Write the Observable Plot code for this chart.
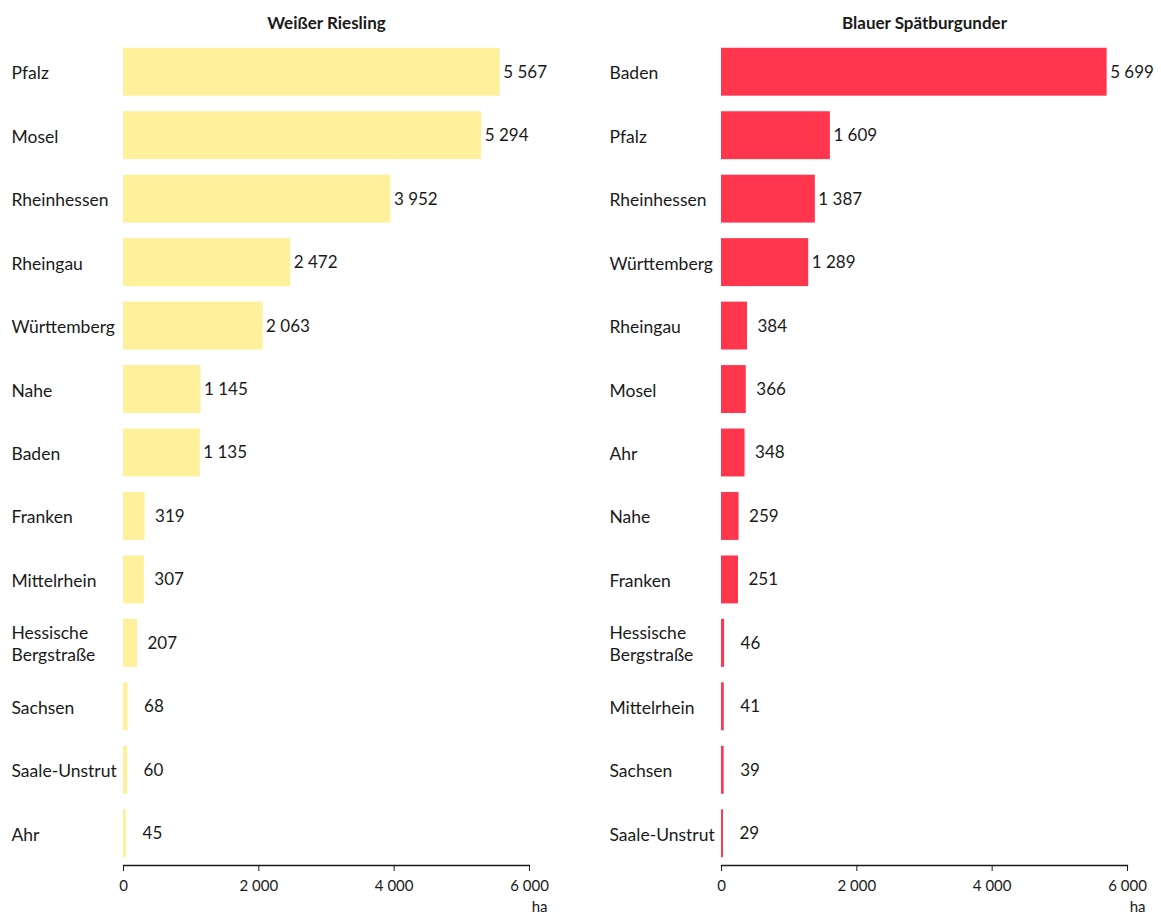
<!DOCTYPE html>
<html>
<head>
<meta charset="utf-8">
<script src="https://cdn.jsdelivr.net/npm/d3@7"></script>
<script src="https://cdn.jsdelivr.net/npm/@observablehq/plot@0.6"></script>
<style>
  html, body { margin: 0; padding: 0; background: #fff; }
  body { font-family: Lato, "Noto Sans", sans-serif; color: #1a1a1a; }
  #wrap { display: flex; flex-direction: row; width: 1161px; overflow: hidden; }
  svg { font-family: Lato, "Noto Sans", sans-serif; }
</style>
</head>
<body>
<div id="wrap"></div>
<script>
// ---- data ----
const rieslingTitle = "Weißer Riesling";
const rieslingRegions = ["Pfalz", "Mosel", "Rheinhessen", "Rheingau", "Württemberg", "Nahe", "Baden", "Franken", "Mittelrhein", "Hessische Bergstraße", "Sachsen", "Saale-Unstrut", "Ahr"];
const rieslingValues = [5567, 5294, 3952, 2472, 2063, 1145, 1135, 319, 307, 207, 68, 60, 45];

const burgunderTitle = "Blauer Spätburgunder";
const burgunderRegions = ["Baden", "Pfalz", "Rheinhessen", "Württemberg", "Rheingau", "Mosel", "Ahr", "Nahe", "Franken", "Hessische Bergstraße", "Mittelrhein", "Sachsen", "Saale-Unstrut"];
const burgunderValues = [5699, 1609, 1387, 1289, 384, 366, 348, 259, 251, 46, 41, 39, 29];

const xTicks = [0, 2000, 4000, 6000];
const unitLabel = "ha";

const locale = d3.formatLocale({decimal: ",", thousands: " ", grouping: [3], currency: ["", " €"]});
const fmt = locale.format(",d");
const wrapLabel = s => s.replace("Hessische ", "Hessische\n");

function panel(title, regions, values, color, width) {
  const data = regions.map((r, i) => ({region: r, value: values[i]}));
  const textColor = "#1a1a1a";
  return Plot.plot({
    width,
    height: 920,
    marginTop: 40,
    marginBottom: 55,
    marginLeft: 123,
    marginRight: width - 529,
    style: {fontFamily: "Lato, 'Noto Sans', sans-serif", color: textColor, background: "#fff"},
    x: {domain: [0, 6000], axis: null},
    y: {domain: regions, paddingInner: 0.245, paddingOuter: 0.1225, round: false, axis: null},
    marks: [
      Plot.barX(data, {y: "region", x: "value", fill: color}),
      Plot.frame({anchor: "bottom", stroke: textColor, strokeWidth: 1.3}),
      Plot.axisX({ticks: xTicks, tickFormat: fmt, tickSize: 6, tickPadding: 9, fontSize: 15, stroke: textColor, label: null}),
      Plot.text(data, {filter: d => d.value >= 1000, y: "region", x: "value", text: d => fmt(d.value), textAnchor: "start", dx: 3, fontSize: 17, fill: textColor}),
      Plot.text(data, {filter: d => d.value >= 100 && d.value < 1000, y: "region", x: "value", text: d => fmt(d.value), textAnchor: "start", dx: 10, fontSize: 17, fill: textColor}),
      Plot.text(data, {filter: d => d.value < 100, y: "region", x: "value", text: d => fmt(d.value), textAnchor: "start", dx: 16, fontSize: 17, fill: textColor}),
      Plot.text(data, {y: "region", text: d => wrapLabel(d.region), frameAnchor: "left", textAnchor: "start", dx: -112, fontSize: 17.5, lineHeight: 1.25, fill: textColor}),
      Plot.text([title], {frameAnchor: "top", dy: -24, fontSize: 17, fontWeight: "bold", fill: textColor}),
      Plot.text([unitLabel], {frameAnchor: "bottom-right", dx: 18, dy: 46, textAnchor: "end", fontSize: 15, fill: textColor})
    ]
  });
}

const wrap = document.getElementById("wrap");
wrap.append(panel(rieslingTitle, rieslingRegions, rieslingValues, "#fff09b", 598));
wrap.append(panel(burgunderTitle, burgunderRegions, burgunderValues, "#ff364e", 563));
</script>
</body>
</html>
